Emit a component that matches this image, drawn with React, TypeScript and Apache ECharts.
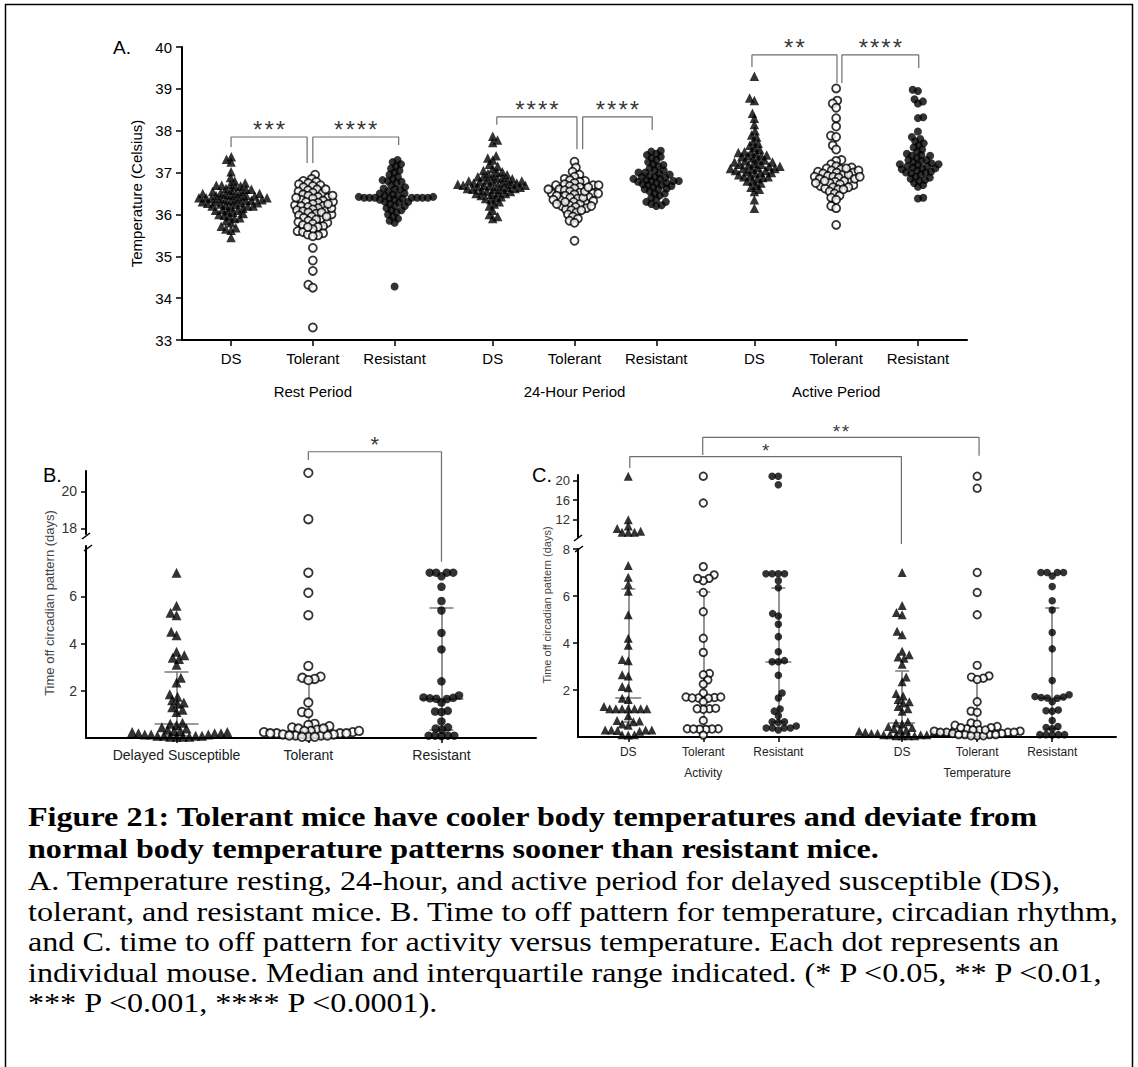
import React, { useEffect, useRef } from "react";
import * as echarts from "echarts";

// ---------- Panel A data (Temperature, Celsius) ----------
const A_CATS = ["DS", "Tolerant", "Resistant", "DS", "Tolerant", "Resistant", "DS", "Tolerant", "Resistant"];
const A_POS = [0.6, 1.6, 2.6, 3.8, 4.8, 5.8, 7.0, 8.0, 9.0];
const A_GROUPS = ["Rest Period", "24-Hour Period", "Active Period"];
const A_GROUP_POS = [1.6, 4.8, 8.0];

const restDS = [37.38, 37.32, 37.25, 37.02, 36.88, 36.8, 36.75, 36.72, 36.7, 36.68, 36.66, 36.62, 36.6, 36.58, 36.55, 36.52, 36.5, 36.5, 36.48, 36.46, 36.45, 36.44, 36.42, 36.4, 36.4, 36.38, 36.37, 36.35, 36.35, 36.34, 36.32, 36.3, 36.3, 36.28, 36.27, 36.25, 36.24, 36.22, 36.2, 36.2, 36.18, 36.15, 36.12, 36.1, 36.08, 36.05, 36.02, 36.0, 35.98, 35.95, 35.92, 35.9, 35.85, 35.8, 35.72, 35.68, 35.65, 35.62, 35.45, 36.55, 36.45, 36.38, 36.33, 36.28, 36.6, 36.7, 36.4, 36.5, 36.2, 36.1];
const restTol = [36.95, 36.85, 36.8, 36.78, 36.75, 36.72, 36.7, 36.68, 36.65, 36.6, 36.58, 36.55, 36.52, 36.5, 36.48, 36.45, 36.42, 36.4, 36.38, 36.35, 36.33, 36.3, 36.28, 36.25, 36.22, 36.2, 36.2, 36.18, 36.15, 36.12, 36.1, 36.1, 36.08, 36.05, 36.02, 36.0, 35.98, 35.95, 35.92, 35.9, 35.88, 35.85, 35.82, 35.8, 35.78, 35.75, 35.72, 35.7, 35.65, 35.6, 35.58, 35.55, 35.52, 35.5, 35.48, 35.2, 34.9, 34.65, 34.32, 34.25, 33.3, 36.15, 36.3, 36.45, 36.6, 36.05, 35.95, 35.7, 36.25, 36.4];
const restRes = [37.3, 37.25, 37.2, 37.15, 37.1, 37.05, 37.0, 36.95, 36.9, 36.85, 36.82, 36.8, 36.78, 36.75, 36.7, 36.65, 36.6, 36.6, 36.55, 36.5, 36.48, 36.45, 36.42, 36.42, 36.4, 36.4, 36.4, 36.4, 36.4, 36.4, 36.4, 36.38, 36.38, 36.35, 36.35, 36.3, 36.28, 36.25, 36.2, 36.15, 36.1, 36.05, 36.0, 35.95, 35.9, 35.85, 35.8, 34.28, 36.45, 36.5, 36.3, 36.2, 36.1, 36.62];
const dayDS = [37.87, 37.78, 37.72, 37.4, 37.35, 37.3, 37.2, 37.15, 37.1, 37.05, 37.02, 37.0, 36.98, 36.95, 36.92, 36.9, 36.88, 36.85, 36.82, 36.8, 36.8, 36.78, 36.75, 36.75, 36.72, 36.7, 36.7, 36.68, 36.66, 36.65, 36.62, 36.6, 36.6, 36.58, 36.55, 36.52, 36.5, 36.48, 36.45, 36.42, 36.4, 36.38, 36.35, 36.3, 36.25, 36.2, 36.1, 36.0, 35.95, 35.9, 36.72, 36.78, 36.85, 36.65, 36.55, 36.9, 36.7, 36.62, 36.8, 36.5, 36.75, 36.68, 36.6];
const dayTol = [37.26, 37.12, 37.02, 36.95, 36.9, 36.85, 36.82, 36.8, 36.78, 36.75, 36.72, 36.7, 36.7, 36.68, 36.65, 36.62, 36.6, 36.58, 36.55, 36.52, 36.5, 36.5, 36.48, 36.45, 36.42, 36.4, 36.38, 36.35, 36.32, 36.3, 36.28, 36.25, 36.22, 36.2, 36.18, 36.15, 36.12, 36.1, 36.05, 36.0, 35.95, 35.9, 35.85, 35.8, 35.37, 36.6, 36.4, 36.3, 36.2, 36.5, 36.7, 36.1, 36.55, 36.45, 36.35, 36.65, 36.25];
const dayRes = [37.52, 37.5, 37.45, 37.42, 37.38, 37.35, 37.3, 37.25, 37.2, 37.18, 37.15, 37.1, 37.05, 37.0, 36.98, 36.95, 36.92, 36.9, 36.88, 36.85, 36.82, 36.8, 36.8, 36.78, 36.75, 36.72, 36.7, 36.68, 36.65, 36.62, 36.6, 36.55, 36.5, 36.45, 36.4, 36.35, 36.3, 36.25, 36.22, 36.2, 36.9, 36.8, 36.7, 37.0, 36.6, 36.85, 36.75, 37.05, 36.5, 36.3];
const actDS = [39.3, 38.78, 38.72, 38.42, 38.3, 38.15, 38.0, 37.9, 37.85, 37.75, 37.7, 37.65, 37.6, 37.55, 37.5, 37.48, 37.45, 37.42, 37.4, 37.38, 37.35, 37.3, 37.28, 37.25, 37.22, 37.2, 37.18, 37.15, 37.12, 37.1, 37.1, 37.08, 37.05, 37.02, 37.0, 36.98, 36.95, 36.92, 36.9, 36.88, 36.85, 36.8, 36.75, 36.7, 36.65, 36.6, 36.55, 36.35, 36.15, 37.3, 37.4, 37.0, 37.15, 37.2, 36.9, 37.5, 37.05, 36.8, 37.25, 37.1];
const actTol = [39.01, 38.72, 38.65, 38.55, 38.3, 38.1, 37.88, 37.85, 37.65, 37.55, 37.3, 37.28, 37.2, 37.15, 37.12, 37.1, 37.08, 37.05, 37.02, 37.0, 37.0, 36.98, 36.95, 36.92, 36.9, 36.9, 36.88, 36.85, 36.82, 36.8, 36.78, 36.75, 36.72, 36.7, 36.68, 36.65, 36.62, 36.6, 36.55, 36.5, 36.45, 36.4, 36.35, 36.2, 36.15, 35.75, 37.05, 36.95, 36.85, 36.75, 36.65, 37.1, 36.8, 36.6, 36.9];
const actRes = [38.98, 38.95, 38.75, 38.7, 38.65, 38.32, 38.3, 37.98, 37.85, 37.8, 37.75, 37.7, 37.65, 37.6, 37.55, 37.5, 37.45, 37.42, 37.4, 37.35, 37.3, 37.28, 37.25, 37.22, 37.2, 37.18, 37.15, 37.12, 37.1, 37.08, 37.05, 37.02, 37.0, 36.98, 36.95, 36.9, 36.88, 36.85, 36.82, 36.8, 36.75, 36.7, 36.66, 36.4, 36.38, 37.2, 37.1, 37.3, 37.15, 37.0, 37.4];
const A_DATA = [restDS, restTol, restRes, dayDS, dayTol, dayRes, actDS, actTol, actRes];

// significance brackets A: [x1, yLeg1, x2, yLeg2, yTop]
const A_BRACKETS = [
  [0.6, 37.61, 1.53, 37.23, 37.85],
  [1.6, 37.23, 2.65, 37.66, 37.85],
  [3.85, 38.14, 4.83, 37.56, 38.33],
  [4.9, 37.56, 5.75, 38.02, 38.33],
  [6.97, 39.52, 8.01, 39.14, 39.81],
  [8.07, 39.14, 9.01, 39.5, 39.81],
];
const A_STARS = ["***", "****", "****", "****", "**", "****"];

// ---------- Panel B data (days, temperature) ----------
const B_CATS = ["Delayed Susceptible", "Tolerant", "Resistant"];
const B_POS = [0.68, 1.67, 2.67];
const tempDS = [7.0, 5.6, 5.3, 5.2, 4.5, 4.35, 3.65, 3.5, 3.4, 3.35, 3.1, 2.55, 2.35, 1.85, 1.75, 1.6, 1.5, 1.45, 1.3, 1.2, 1.1, 0.65, 0.6, 0.55, 0.45, 0.4, 0.3, 0.25, 0.2, 0.2, 0.2, 0.15, 0.15, 0.15, 0.1, 0.1, 0.1, 0.1, 0.05, 0.05, 0.05, 0.05, 0.3, 0.25, 0.35];
const tempTol = [21.0, 18.5, 7.0, 6.15, 5.2, 3.05, 2.6, 2.55, 2.5, 2.45, 1.5, 1.1, 1.05, 0.6, 0.55, 0.5, 0.45, 0.4, 0.35, 0.3, 0.3, 0.25, 0.25, 0.2, 0.2, 0.2, 0.15, 0.15, 0.1, 0.1, 0.1, 0.1, 0.05, 0.05, 0.05, 0.3, 0.4, 0.2];
const tempRes = [7.0, 7.0, 7.0, 7.0, 6.85, 6.4, 5.8, 5.4, 4.45, 3.75, 2.4, 1.8, 1.72, 1.7, 1.68, 1.66, 1.65, 1.5, 1.15, 1.12, 1.1, 0.7, 0.45, 0.4, 0.35, 0.1, 0.1, 0.1, 0.1, 0.08];
const B_DATA = [tempDS, tempTol, tempRes];
const B_MED = [0.6, 0.3, 1.65];
const B_Q1 = [0.1, 0.1, 0.35];
const B_Q3 = [2.8, 2.45, 5.5];
const B_BRACKET = [1.67, 21.69, 2.67, 16.2, 22.14];

// ---------- Panel C data (activity vs temperature) ----------
const C_CATS = ["DS", "Tolerant", "Resistant", "DS", "Tolerant", "Resistant"];
const C_POS = [0.67, 1.67, 2.67, 4.32, 5.32, 6.32];
const C_GROUPS = ["Activity", "Temperature"];
const C_GROUP_POS = [1.67, 5.32];
const actvDS = [21.0, 11.9, 10.6, 10.1, 9.3, 9.3, 9.3, 9.5, 7.3, 6.8, 6.5, 6.2, 5.2, 4.2, 3.9, 3.3, 3.25, 2.65, 2.6, 2.15, 2.1, 1.65, 1.6, 1.2, 1.2, 1.2, 1.2, 1.2, 1.2, 1.2, 1.3, 0.9, 0.7, 0.68, 0.65, 0.55, 0.5, 0.3, 0.3, 0.3, 0.28, 0.25, 0.3, 0.1, 0.1, 0.08];
const actvTol = [21.0, 15.4, 7.25, 6.9, 6.75, 6.65, 6.75, 6.15, 5.33, 4.2, 3.6, 2.7, 2.65, 2.43, 2.25, 1.87, 1.7, 1.68, 1.66, 1.65, 1.66, 1.7, 1.5, 1.2, 1.22, 1.18, 1.2, 0.7, 0.35, 0.34, 0.32, 0.35, 0.33, 0.34, 0.08];
const actvRes = [21.0, 21.0, 19.2, 6.95, 6.95, 6.95, 6.95, 6.65, 6.35, 5.25, 5.15, 4.8, 4.27, 3.63, 3.25, 3.2, 3.2, 2.63, 1.87, 1.66, 1.19, 1.1, 0.9, 0.65, 0.65, 0.62, 0.47, 0.38, 0.38, 0.38, 0.38, 0.3];
const C_DATA = [actvDS, actvTol, actvRes, tempDS, tempTol, tempRes];
const C_MED = [1.65, 1.65, 3.2, 0.6, 0.3, 1.65];
const C_Q1 = [0.65, 0.5, 0.65, 0.1, 0.1, 0.35];
const C_Q3 = [6.3, 6.2, 6.35, 2.8, 2.45, 5.5];
const C_BRACKETS = [
  [0.69, 22.71, 4.31, 6.85, 25.07],
  [1.662, 25.43, 5.345, 25.28, 29.12],
];
const C_STARS = ["*", "**"];

const CAPTION_TITLE = [
  "Figure 21: Tolerant mice have cooler body temperatures and deviate from",
  "normal body temperature patterns sooner than resistant mice.",
];
const CAPTION_BODY = [
  "A. Temperature resting, 24-hour, and active period for delayed susceptible (DS),",
  "tolerant, and resistant mice. B. Time to off pattern for temperature, circadian rhythm,",
  "and C. time to off pattern for activity versus temperature. Each dot represents an",
  "individual mouse. Median and interquartile range indicated. (* P <0.05, ** P <0.01,",
  "*** P <0.001, **** P <0.0001).",
];

const SHAPES = ["tri", "open", "fill"];

// ---------- layout ----------
const GA = { left: 182, top: 47, width: 785, height: 293, xmax: 9.6, ymin: 33, ymax: 40 };
const GB_LO = { left: 86, top: 546, width: 450, height: 192, xmax: 3.38, ymin: 0, ymax: 8.13 };
const GB_HI = { left: 86, top: 471, width: 450, height: 63, xmax: 3.38, ymin: 17.7, ymax: 21.1 };
const GC_LO = { left: 578, top: 549, width: 538, height: 188, xmax: 7.17, ymin: 0, ymax: 8 };
const GC_HI = { left: 578, top: 475, width: 538, height: 62, xmax: 7.17, ymin: 8.3, ymax: 21.25 };

const FONT = "Liberation Sans";
const SERIF = "Liberation Serif";

function swarm(values: number[], pxPerY: number, d: number): number[] {
  const order = values.map((_, i) => i).sort((a, b) => values[a] - values[b]);
  const placed: { x: number; y: number }[] = [];
  const out = new Array(values.length).fill(0);
  order.forEach((i, k) => {
    const y = values[i] * pxPerY;
    const blocks: [number, number][] = [];
    for (const p of placed) {
      const dy = Math.abs(p.y - y);
      if (dy < d) {
        const h = Math.sqrt(d * d - dy * dy);
        blocks.push([p.x - h, p.x + h]);
      }
    }
    const cands = [0];
    blocks.forEach(([a, b]) => cands.push(a, b));
    let best = Infinity;
    for (const c of cands) {
      if (blocks.some(([a, b]) => c > a + 1e-6 && c < b - 1e-6)) continue;
      const ac = Math.abs(c), ab = Math.abs(best);
      if (ac < ab - 1e-6) best = c;
      else if (Math.abs(ac - ab) < 1e-6 && (k % 2 === 0 ? c < best : c > best)) best = c;
    }
    placed.push({ x: best, y });
    out[i] = best;
  });
  return out;
}

function pointStyle(shape: string, size: number) {
  if (shape === "tri") return { symbol: "triangle", symbolSize: size + 1.5, itemStyle: { color: "#000" } };
  if (shape === "open")
    return { symbol: "circle", symbolSize: size, itemStyle: { color: "#fff", borderColor: "#000", borderWidth: 1.8 } };
  return { symbol: "circle", symbolSize: size, itemStyle: { color: "#000" } };
}

type Seg = { xi: number; yi: number; g: any; lo: number; hi: number };

function swarmSeries(values: number[], center: number, segs: Seg[], shape: string, size: number, d: number) {
  const res: any[] = [];
  segs.forEach((s) => {
    const vals = values.filter((v) => v >= s.lo && v < s.hi);
    if (!vals.length) return;
    const pxPerY = s.g.height / (s.g.ymax - s.g.ymin);
    const pxPerX = s.g.width / s.g.xmax;
    const offs = swarm(vals, pxPerY, d);
    res.push({
      type: "scatter",
      xAxisIndex: s.xi,
      yAxisIndex: s.yi,
      data: vals.map((v, i) => [center + offs[i] / pxPerX, v]),
      ...pointStyle(shape, size),
      clip: false,
      z: 4,
      silent: true,
    });
  });
  return res;
}

function bracketSeries(xi: number, yi: number, b: number[], g: any, text: string, fs: number, gapPx: number) {
  const [x1, y1, x2, y2, top] = b;
  const pxPerY = g.height / (g.ymax - g.ymin);
  const spaced = text.split("").join("\u200A");
  return [
    {
      type: "line",
      xAxisIndex: xi,
      yAxisIndex: yi,
      data: [[x1, y1], [x1, top], [x2, top], [x2, y2]],
      symbol: "none",
      clip: false,
      lineStyle: { color: "#6e6e6e", width: 1.2 },
      z: 2,
      silent: true,
    },
    {
      type: "scatter",
      xAxisIndex: xi,
      yAxisIndex: yi,
      data: [[(x1 + x2) / 2, top + gapPx / pxPerY]],
      symbolSize: 1,
      itemStyle: { color: "rgba(0,0,0,0)" },
      clip: false,
      silent: true,
      label: {
        show: true,
        position: "inside",
        formatter: spaced,
        fontSize: fs,
        fontFamily: FONT,
        color: "#000",
        offset: [0, Math.round(fs * 0.22)],
      },
    },
  ];
}

function statSeries(xi: number, yi: number, g: any, pos: number[], q1: number[], med: number[], q3: number[], medW: number, qW: number) {
  const pxPerX = g.width / g.xmax;
  const data: any[] = [];
  pos.forEach((x, i) => {
    data.push({ coords: [[x, q1[i]], [x, q3[i]]] });
    const mw = medW / 2 / pxPerX;
    const qw = qW / 2 / pxPerX;
    data.push({ coords: [[x - mw, med[i]], [x + mw, med[i]]] });
    data.push({ coords: [[x - qw, q1[i]], [x + qw, q1[i]]] });
    data.push({ coords: [[x - qw, q3[i]], [x + qw, q3[i]]] });
  });
  return {
    type: "lines",
    coordinateSystem: "cartesian2d",
    xAxisIndex: xi,
    yAxisIndex: yi,
    data,
    lineStyle: { color: "#7a7a7a", width: 1.6, opacity: 1 },
    z: 3,
    silent: true,
  };
}

function labelFor(pos: number[], names: string[]) {
  return (v: number) => {
    const i = pos.findIndex((p) => Math.abs(p - v) < 1e-6);
    return i >= 0 ? names[i] : "";
  };
}

function grid(g: any) {
  return { left: g.left, top: g.top, width: g.width, height: g.height, containLabel: false };
}

const axisLine = { show: true, lineStyle: { color: "#000", width: 2 } };

export default function App() {
  const ref = useRef<HTMLDivElement>(null);
  useEffect(() => {
    document.body.style.margin = "0";
    const chart = echarts.init(ref.current!, undefined, { renderer: "svg" });

    const segA: Seg[] = [{ xi: 0, yi: 0, g: GA, lo: -1e9, hi: 1e9 }];
    const segB: Seg[] = [
      { xi: 2, yi: 1, g: GB_LO, lo: -1e9, hi: 10 },
      { xi: 3, yi: 2, g: GB_HI, lo: 10, hi: 1e9 },
    ];
    const segC: Seg[] = [
      { xi: 4, yi: 3, g: GC_LO, lo: -1e9, hi: 8.2 },
      { xi: 6, yi: 4, g: GC_HI, lo: 8.2, hi: 1e9 },
    ];

    const series: any[] = [];
    A_DATA.forEach((vals, i) => series.push(...swarmSeries(vals, A_POS[i], segA, SHAPES[i % 3], 8, 5.4)));
    A_BRACKETS.forEach((b, i) => series.push(...bracketSeries(0, 0, b, GA, A_STARS[i], 24, 12)));

    B_DATA.forEach((vals, i) => series.push(...swarmSeries(vals, B_POS[i], segB, SHAPES[i], 8.5, 6.4)));
    series.push(statSeries(2, 1, GB_LO, B_POS, B_Q1, B_MED, B_Q3, 44, 24));
    series.push(...bracketSeries(3, 2, B_BRACKET, GB_HI, "*", 22, 12));

    C_DATA.forEach((vals, i) => series.push(...swarmSeries(vals, C_POS[i], segC, SHAPES[i % 3], 7.5, 6.2)));
    series.push(statSeries(4, 3, GC_LO, C_POS, C_Q1, C_MED, C_Q3, 26, 14));
    C_BRACKETS.forEach((b, i) => series.push(...bracketSeries(6, 4, b, GC_HI, C_STARS[i], 19, 10)));

    const hiddenX = (gi: number, g: any) => ({ type: "value", gridIndex: gi, min: 0, max: g.xmax, show: false });

    const capTitle = CAPTION_TITLE.map((t, i) => ({
      type: "text", x: 28, y: 817 + i * 32, scaleX: 1.19,
      style: { text: t, fontSize: 27, fontWeight: "bold", fontFamily: SERIF, fill: "#000", textVerticalAlign: "middle" },
    }));
    const capBody = CAPTION_BODY.map((t, i) => ({
      type: "text", x: 28, y: 881 + i * 30.5, scaleX: 1.19,
      style: { text: t, fontSize: 27, fontFamily: SERIF, fill: "#000", textVerticalAlign: "middle" },
    }));

    const option: any = {
      animation: false,
      grid: [grid(GA), grid(GB_LO), grid(GB_HI), grid(GC_LO), grid(GC_HI)],
      xAxis: [
        {
          type: "value",
          gridIndex: 0,
          min: 0,
          max: GA.xmax,
          axisLine,
          splitLine: { show: false },
          axisTick: { show: true, customValues: A_POS, length: 6, lineStyle: { color: "#000", width: 1.5 } },
          axisLabel: { customValues: A_POS, formatter: labelFor(A_POS, A_CATS), fontSize: 15, color: "#000", fontFamily: FONT, margin: 11 },
        },
        {
          type: "value",
          gridIndex: 0,
          min: 0,
          max: GA.xmax,
          position: "bottom",
          offset: 32,
          axisLine: { show: false },
          axisTick: { show: false },
          splitLine: { show: false },
          axisLabel: { customValues: A_GROUP_POS, formatter: labelFor(A_GROUP_POS, A_GROUPS), fontSize: 15, color: "#000", fontFamily: FONT, margin: 12 },
        },
        {
          type: "value",
          gridIndex: 1,
          min: 0,
          max: GB_LO.xmax,
          axisLine,
          splitLine: { show: false },
          axisTick: { show: true, customValues: B_POS, length: 5, lineStyle: { color: "#000", width: 1.5 } },
          axisLabel: { customValues: B_POS, formatter: labelFor(B_POS, B_CATS), fontSize: 14, color: "#222", fontFamily: FONT, margin: 10 },
        },
        hiddenX(2, GB_HI),
        {
          type: "value",
          gridIndex: 3,
          min: 0,
          max: GC_LO.xmax,
          axisLine,
          splitLine: { show: false },
          axisTick: { show: true, customValues: C_POS, length: 5, lineStyle: { color: "#000", width: 1.5 } },
          axisLabel: { customValues: C_POS, formatter: labelFor(C_POS, C_CATS), fontSize: 12, color: "#222", fontFamily: FONT, margin: 9 },
        },
        {
          type: "value",
          gridIndex: 3,
          min: 0,
          max: GC_LO.xmax,
          position: "bottom",
          offset: 22,
          axisLine: { show: false },
          axisTick: { show: false },
          splitLine: { show: false },
          axisLabel: { customValues: C_GROUP_POS, formatter: labelFor(C_GROUP_POS, C_GROUPS), fontSize: 12, color: "#222", fontFamily: FONT, margin: 8 },
        },
        hiddenX(4, GC_HI),
      ],
      yAxis: [
        {
          type: "value",
          gridIndex: 0,
          min: GA.ymin,
          max: GA.ymax,
          interval: 1,
          axisLine,
          splitLine: { show: false },
          axisTick: { show: true, length: 6, lineStyle: { color: "#000", width: 1.5 } },
          axisLabel: { fontSize: 15, color: "#000", fontFamily: FONT, margin: 10 },
          name: "Temperature (Celsius)",
          nameLocation: "middle",
          nameGap: 38,
          nameRotate: 90,
          nameTextStyle: { fontSize: 15, color: "#000", fontFamily: FONT },
        },
        {
          type: "value",
          gridIndex: 1,
          min: GB_LO.ymin,
          max: GB_LO.ymax,
          axisLine,
          splitLine: { show: false },
          axisTick: { show: true, customValues: [2, 4, 6], length: 5, lineStyle: { color: "#000", width: 1.5 } },
          axisLabel: { customValues: [2, 4, 6], fontSize: 14, color: "#333", fontFamily: FONT, margin: 9 },
        },
        {
          type: "value",
          gridIndex: 2,
          min: GB_HI.ymin,
          max: GB_HI.ymax,
          axisLine,
          splitLine: { show: false },
          axisTick: { show: true, customValues: [18, 20], length: 5, lineStyle: { color: "#000", width: 1.5 } },
          axisLabel: { customValues: [18, 20], fontSize: 14, color: "#333", fontFamily: FONT, margin: 9 },
        },
        {
          type: "value",
          gridIndex: 3,
          min: GC_LO.ymin,
          max: GC_LO.ymax,
          axisLine,
          splitLine: { show: false },
          axisTick: { show: true, customValues: [2, 4, 6, 8], length: 5, lineStyle: { color: "#000", width: 1.5 } },
          axisLabel: { customValues: [2, 4, 6, 8], fontSize: 13, color: "#333", fontFamily: FONT, margin: 8 },
        },
        {
          type: "value",
          gridIndex: 4,
          min: GC_HI.ymin,
          max: GC_HI.ymax,
          axisLine,
          splitLine: { show: false },
          axisTick: { show: true, customValues: [12, 16, 20], length: 5, lineStyle: { color: "#000", width: 1.5 } },
          axisLabel: { customValues: [12, 16, 20], fontSize: 13, color: "#333", fontFamily: FONT, margin: 8 },
        },
      ],
      series,
      graphic: [
        { type: "rect", shape: { x: 5.5, y: 4.5, width: 1127, height: 1100 }, style: { fill: "none", stroke: "#000", lineWidth: 1.5 }, silent: true },
        { type: "text", x: 113, y: 47, style: { text: "A.", fontSize: 19, fontFamily: FONT, fill: "#000", textVerticalAlign: "middle" } },
        { type: "text", x: 43, y: 475, style: { text: "B.", fontSize: 20, fontFamily: FONT, fill: "#000", textVerticalAlign: "middle" } },
        { type: "text", x: 532, y: 475, style: { text: "C.", fontSize: 20, fontFamily: FONT, fill: "#000", textVerticalAlign: "middle" } },
        {
          type: "text", x: 49, y: 603, rotation: Math.PI / 2,
          style: { text: "Time off circadian pattern (days)", fontSize: 13, fontFamily: FONT, fill: "#444", textAlign: "center", textVerticalAlign: "middle" },
        },
        {
          type: "text", x: 547, y: 605, rotation: Math.PI / 2,
          style: { text: "Time off circadian pattern (days)", fontSize: 11, fontFamily: FONT, fill: "#444", textAlign: "center", textVerticalAlign: "middle" },
        },
        // axis breaks
        { type: "line", shape: { x1: 82, y1: 539, x2: 90, y2: 533 }, style: { stroke: "#000", lineWidth: 1.5 } },
        { type: "line", shape: { x1: 84, y1: 551, x2: 92, y2: 545 }, style: { stroke: "#000", lineWidth: 1.5 } },
        { type: "line", shape: { x1: 574, y1: 541, x2: 582, y2: 535 }, style: { stroke: "#000", lineWidth: 1.5 } },
        { type: "line", shape: { x1: 575, y1: 552, x2: 583, y2: 546 }, style: { stroke: "#000", lineWidth: 1.5 } },
        ...capTitle,
        ...capBody,
      ],
    };
    chart.setOption(option);
    return () => chart.dispose();
  }, []);
  return <div ref={ref} style={{ width: 1138, height: 1067 }} />;
}
